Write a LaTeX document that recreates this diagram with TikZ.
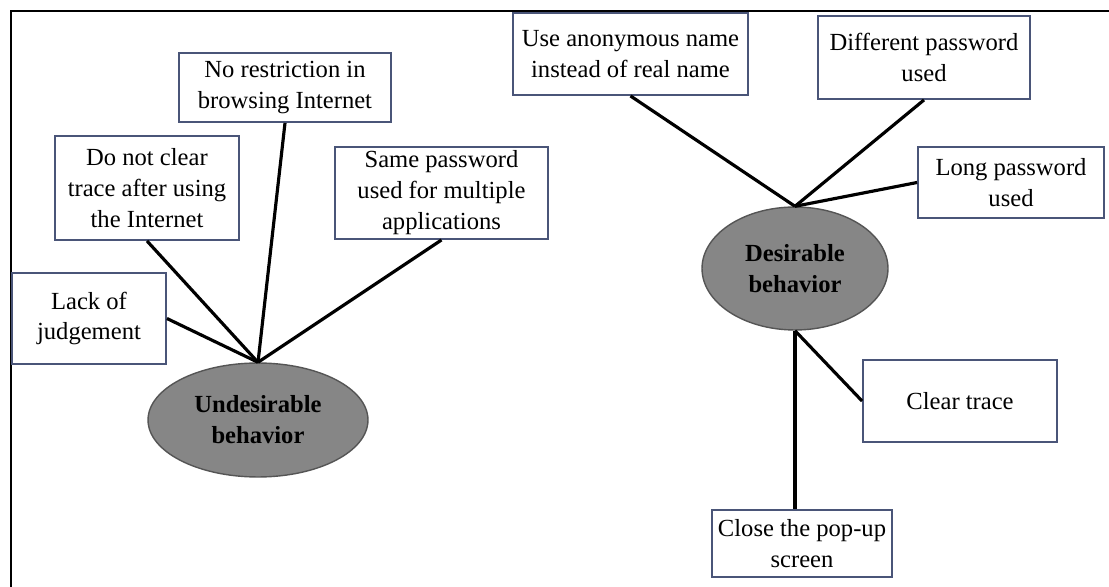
\documentclass[tikz,border=0pt]{standalone}
\usepackage{fontspec}
\setmainfont{Liberation Serif}
\usetikzlibrary{shapes}
\usetikzlibrary{positioning}

\definecolor{boxline}{HTML}{4A5578}
\definecolor{blobfill}{HTML}{868686}
\definecolor{blobline}{HTML}{555555}

\begin{document}
\begin{tikzpicture}[x=0.02cm, y=-0.02cm,
  every node/.style={font=\fontsize{14}{17.6}\selectfont, align=center},
  box/.style={draw=boxline, line width=1.1pt, fill=white, inner sep=1pt},
  blob/.style={ellipse, draw=blobline, fill=blobfill, line width=0.8pt, inner sep=0pt,
    font=\fontsize{14}{17.6}\selectfont\bfseries},
  link/.style={line width=1.8pt}]

\useasboundingbox (0,0) rectangle (1109,587);
\draw[line width=1.2pt] (11,587) -- (11,11) -- (1109,11);

% undesirable side
\node[blob, minimum width=4.4cm, minimum height=2.28cm] (ub) at (258,420) {Undesirable\\behavior};
\node[box, minimum width=4.24cm, minimum height=1.38cm] (u1) at (285,87.5) {No restriction in\\browsing Internet};
\node[box, minimum width=3.68cm, minimum height=2.08cm] (u2) at (147,188) {Do not clear\\trace after using\\the Internet};
\node[box, minimum width=4.26cm, minimum height=1.84cm] (u3) at (441.5,193) {Same password\\used for multiple\\applications};
\node[box, minimum width=3.08cm, minimum height=1.82cm] (u4) at (89,318.5) {Lack of\\judgement};

\draw[link] (u4.east) -- (ub.north);
\draw[link] (u2.south) -- (ub.north);
\draw[link] (u1.south) -- (ub.north);
\draw[link] (u3.south) -- (ub.north);

% desirable side
\node[blob, minimum width=3.72cm, minimum height=2.46cm] (db) at (795,268.5) {Desirable\\behavior};
\node[box, minimum width=4.70cm, minimum height=1.64cm] (d1) at (630.5,54) {Use anonymous name\\instead of real name};
\node[box, minimum width=4.24cm, minimum height=1.66cm] (d2) at (924,57.5) {Different password\\used};
\node[box, minimum width=3.72cm, minimum height=1.42cm] (d3) at (1011,182.5) {Long password\\used};
\node[box, minimum width=3.88cm, minimum height=1.64cm] (d4) at (960,401) {Clear trace};
\node[box, minimum width=3.60cm, minimum height=1.34cm] (d5) at (802,543.5) {Close the pop-up\\screen};

\draw[link] (d1.south) -- (db.north);
\draw[link] (d2.south) -- (db.north);
\draw[link] (d3.west) -- (db.north);
\draw[link] (db.south) -- (db.south |- d5.north);
\draw[link] (db.south) -- (d4.west);
\end{tikzpicture}
\end{document}
